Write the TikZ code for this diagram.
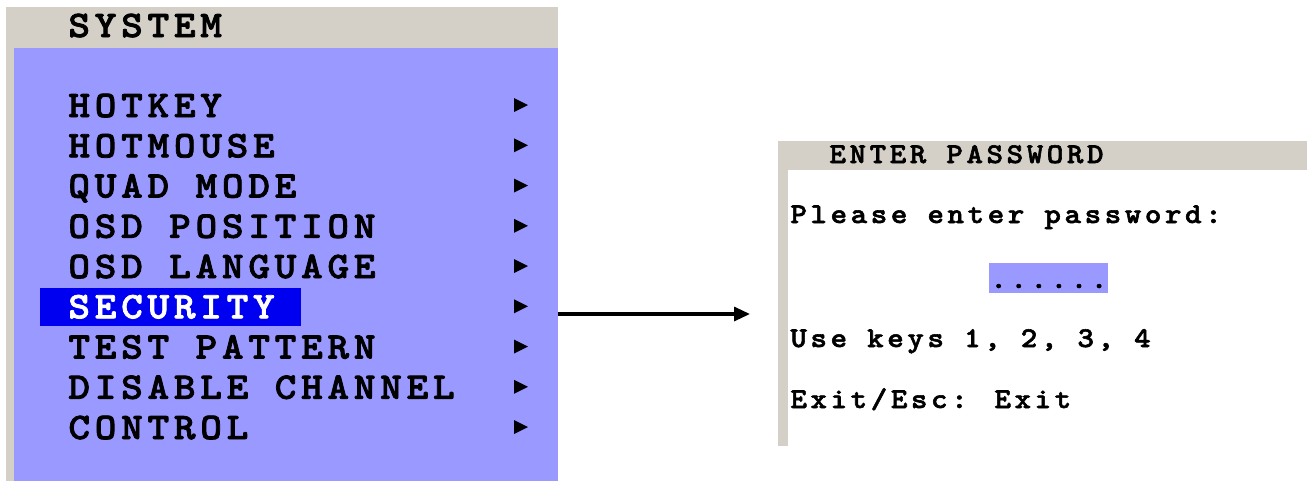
\documentclass[tikz,border=0pt]{standalone}
\usepackage{fontspec}
\usetikzlibrary{arrows.meta}
\newfontfamily\osdbig{lmmonolt10-bold.otf}[FakeStretch=1.1,LetterSpace=12.6,FakeBold=2]
\newfontfamily\osdsmall{lmmonolt10-bold.otf}[FakeStretch=1.1,LetterSpace=12.5,FakeBold=2]
\definecolor{osdblue}{RGB}{153,153,255}
\definecolor{osdgray}{RGB}{212,208,200}
\definecolor{selblue}{RGB}{0,0,240}
\tikzset{
  menuitem/.style={anchor=base west, inner sep=0pt, font=\fontsize{18.75}{19}\osdbig},
  pwline/.style={anchor=base west, inner sep=0pt, font=\fontsize{14.3}{15}\osdsmall},
}
\begin{document}
\begin{tikzpicture}[x=0.5pt,y=-0.5pt]
\useasboundingbox (0,0) rectangle (1307,483);

% system menu
\fill[osdgray] (6,7) rectangle (558,481);
\fill[osdblue] (14,48) rectangle (558,481);
\fill[selblue] (40,288) rectangle (301,326);
\node[menuitem] (system) at (68,37) {SYSTEM};
\foreach \name/\col [count=\i] in {HOTKEY/black, HOTMOUSE/black, QUAD MODE/black,
    OSD POSITION/black, OSD LANGUAGE/black, SECURITY/white, TEST PATTERN/black,
    DISABLE CHANNEL/black, CONTROL/black} {
  \node[menuitem, text=\col] (item\i) at (68,76.75+40.25*\i) {\name};
  \fill (514,57.75+40.25*\i) -- ++(0,14) -- ++(14,-7) -- cycle;
}

% password window
\fill[osdgray] (778,141) rectangle (1307,170);
\fill[osdgray] (778,141) rectangle (788,446);
\fill[osdblue] (989,263) rectangle (1108,293);
\node[pwline] (title) at (829,163) {ENTER PASSWORD};
\node[pwline] (prompt) at (790,223) {Please enter password:};
\node[pwline] (dots) at (990,288) {......};
\node[pwline] (keys) at (790,347) {Use keys 1, 2, 3, 4};
\node[pwline] (exit) at (790,408) {Exit/Esc: Exit};

\coordinate (menuedge) at (558,314);
\coordinate (pwtip) at (750,314);
\draw[line width=1.6pt, -{Triangle[length=8pt,width=7pt]}] (menuedge) -- (pwtip);
\end{tikzpicture}
\end{document}
